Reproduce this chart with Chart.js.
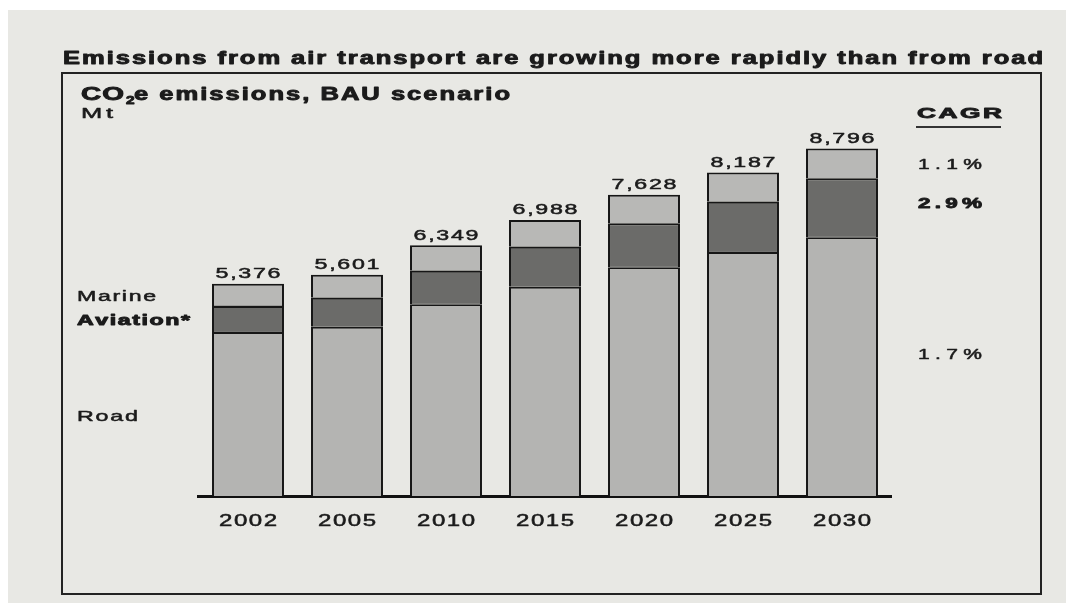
<!DOCTYPE html>
<html>
<head>
<meta charset="utf-8">
<title>CO2e emissions, BAU scenario</title>
<script src="https://cdn.jsdelivr.net/npm/chart.js@4.4.1/dist/chart.umd.min.js"></script>
<style>
  html, body { margin: 0; padding: 0; background: #ffffff; }
  canvas { display: block; }
</style>
</head>
<body>
<canvas id="emissionsChart" width="1066" height="603"></canvas>
<script>
// CO2e emissions by mode, Mt
const years = ['2002', '2005', '2010', '2015', '2020', '2025', '2030'];
const road = [4152, 4286, 4853, 5299, 5790, 6177, 6549];
const aviation = [658, 734, 851, 1013, 1114, 1273, 1494];
const marine = [566, 581, 645, 676, 724, 737, 753];
const seriesNames = ['Marine', 'Aviation*', 'Road'];
const cagr = ['1.1%', '2.9%', '1.7%'];

const totals = years.map((_, i) => road[i] + aviation[i] + marine[i]);

const PAPER = '#e8e8e4';
const INK = '#1b1b1b';
const FONT = '"Liberation Sans", Arial, Helvetica, sans-serif';

// the page type is wide and loosely tracked: stretch glyphs, then spread to the given width
function wideText(ctx, text, x, y, opt) {
  const size = opt.size || 15;
  const sx = opt.sx || 1.5;
  ctx.font = (opt.bold ? 'bold ' : '') + size + 'px ' + FONT;
  const chars = Array.from(text);
  const widths = chars.map(c => ctx.measureText(c).width);
  const sum = widths.reduce((a, b) => a + b, 0);
  let ls = 0;
  if (opt.width && chars.length > 1) ls = (opt.width / sx - sum) / (chars.length - 1);
  const total = sx * (sum + ls * (chars.length - 1));
  let x0 = x;
  if (opt.align === 'center') x0 = x - total / 2;
  else if (opt.align === 'right') x0 = x - total;
  ctx.save();
  ctx.fillStyle = opt.color || INK;
  ctx.strokeStyle = opt.color || INK;
  ctx.lineWidth = opt.bold ? 0.9 : 0.5;
  ctx.lineJoin = 'round';
  ctx.textBaseline = 'alphabetic';
  ctx.textAlign = 'left';
  ctx.translate(x0, y);
  ctx.scale(sx, 1);
  let cx = 0;
  chars.forEach((c, i) => {
    ctx.fillText(c, cx, 0);
    ctx.strokeText(c, cx, 0);
    cx += widths[i] + ls;
  });
  ctx.restore();
  return x0 + total;
}

const pagePlugin = {
  id: 'page',
  beforeDraw(chart) {
    const ctx = chart.ctx;
    const w = chart.width, h = chart.height;
    ctx.save();
    ctx.fillStyle = '#ffffff';
    ctx.fillRect(0, 0, w, h);
    ctx.fillStyle = PAPER;
    ctx.fillRect(8, 10, w - 8, h - 10);
    // frame round the chart
    ctx.strokeStyle = '#232323';
    ctx.lineWidth = 2;
    ctx.strokeRect(62, 73, 979, 521);
    ctx.restore();
  }
};

const textPlugin = {
  id: 'texts',
  afterDraw(chart) {
    const ctx = chart.ctx;
    const xs = chart.scales.x;
    const ys = chart.scales.y;

    wideText(ctx, 'Emissions from air transport are growing more rapidly than from road', 63, 64,
      { size: 18, bold: true, width: 980, sx: 1.42 });

    // subtitle with subscript 2
    wideText(ctx, 'CO', 81, 100, { size: 18, bold: true, width: 43, sx: 1.55 });
    wideText(ctx, '2', 126, 104, { size: 11, bold: true, sx: 1.4 });
    wideText(ctx, 'e emissions, BAU scenario', 134, 100, { size: 18, bold: true, width: 376, sx: 1.42 });
    wideText(ctx, 'Mt', 81, 118, { size: 15, width: 32, sx: 1.7 });

    // CAGR column
    wideText(ctx, 'CAGR', 917, 118, { size: 15, bold: true, width: 85, sx: 1.75 });
    ctx.save();
    ctx.strokeStyle = '#333333';
    ctx.lineWidth = 2;
    ctx.beginPath();
    ctx.moveTo(916, 127);
    ctx.lineTo(1001, 127);
    ctx.stroke();
    ctx.restore();
    wideText(ctx, cagr[0], 918, 169, { size: 14, width: 64 });
    wideText(ctx, cagr[1], 918, 208, { size: 15, bold: true, width: 64 });
    wideText(ctx, cagr[2], 918, 359, { size: 14, width: 64 });

    // series names on the left
    wideText(ctx, seriesNames[0], 77, 301, { size: 14, width: 79, sx: 1.65 });
    wideText(ctx, seriesNames[1], 77, 325, { size: 14.5, bold: true, width: 113, sx: 1.6 });
    wideText(ctx, seriesNames[2], 77, 421, { size: 14.5, width: 61, sx: 1.6 });

    // totals above the stacks and year labels below
    years.forEach((yr, i) => {
      const cx = xs.getPixelForValue(i);
      const top = ys.getPixelForValue(totals[i]);
      wideText(ctx, totals[i].toLocaleString('en-US'), cx, top - 5.5,
        { size: 14.5, width: 65, align: 'center', sx: 1.6 });
      wideText(ctx, yr, cx, 526, { size: 16, width: 58, align: 'center' });
    });
  }
};

const LIGHT = '#b4b4b2';
const DARK = '#6b6b69';
const EDGE = '#161616';

new Chart(document.getElementById('emissionsChart'), {
  type: 'bar',
  data: {
    labels: years,
    datasets: [
      {
        label: 'Road',
        data: road,
        backgroundColor: LIGHT,
        borderColor: EDGE,
        borderWidth: { left: 2, right: 2, top: 2, bottom: 0 },
        borderSkipped: false
      },
      {
        label: 'Aviation*',
        data: aviation,
        backgroundColor: DARK,
        borderColor: EDGE,
        borderWidth: { left: 2, right: 2, top: 2, bottom: 0.5 },
        borderSkipped: false
      },
      {
        label: 'Marine',
        data: marine,
        backgroundColor: '#b8b8b6',
        borderColor: EDGE,
        borderWidth: { left: 2, right: 2, top: 2, bottom: 0.5 },
        borderSkipped: false
      }
    ]
  },
  options: {
    responsive: false,
    animation: false,
    devicePixelRatio: 1,
    layout: { padding: { left: 198.5, right: 174.5, top: 140.5, bottom: 107 } },
    plugins: {
      legend: { display: false },
      tooltip: { enabled: false }
    },
    datasets: {
      bar: { categoryPercentage: 1, barPercentage: 0.727 }
    },
    scales: {
      x: {
        stacked: true,
        grid: { display: false },
        ticks: { display: false },
        border: { display: true, color: '#111111', width: 3 },
        afterFit(scale) { scale.height = 0; }
      },
      y: {
        stacked: true,
        display: false,
        min: 0,
        max: 9000
      }
    }
  },
  plugins: [pagePlugin, textPlugin]
});
</script>
</body>
</html>
